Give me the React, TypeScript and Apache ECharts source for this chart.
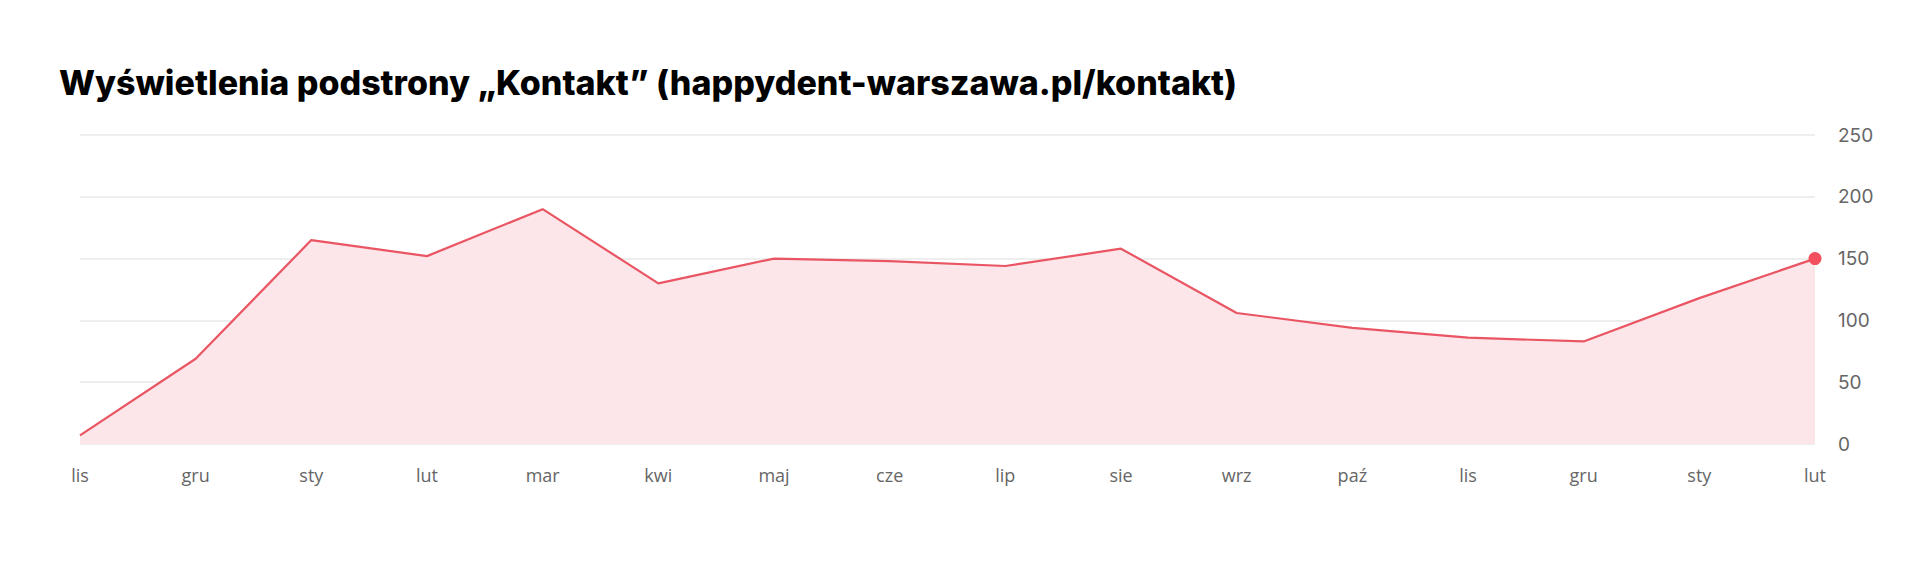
import React, { useEffect, useRef } from "react";
import * as echarts from "echarts";

const titleText = "Wyświetlenia podstrony „Kontakt” (happydent-warszawa.pl/kontakt)";
const months = ["lis", "gru", "sty", "lut", "mar", "kwi", "maj", "cze", "lip", "sie", "wrz", "paź", "lis", "gru", "sty", "lut"];
const views = [7, 69, 165, 152, 190, 130, 150, 148, 144, 158, 106, 94, 86, 83, 118, 150];
const yTicks = { min: 0, max: 250, interval: 50 };

export default function App() {
  const ref = useRef<HTMLDivElement>(null);
  useEffect(() => {
    if (!ref.current) return;
    const chart = echarts.init(ref.current, undefined, { renderer: "svg" });
    const lastIdx = views.length - 1;
    chart.setOption({
      animation: false,
      backgroundColor: "#ffffff",
      title: {
        text: titleText,
        left: 46,
        top: 52,
        textStyle: {
          fontFamily: "Inter",
          fontWeight: 800,
          fontSize: 34,
          color: "#000000",
        },
      },
      grid: { left: 72, right: 97, top: 127, bottom: 114 },
      xAxis: {
        type: "category",
        data: months,
        boundaryGap: false,
        axisLine: { show: false },
        axisTick: { show: false },
        axisLabel: {
          margin: 22,
          fontFamily: "Open Sans",
          fontSize: 18,
          color: "#666666",
        },
        splitLine: { show: false },
      },
      yAxis: {
        type: "value",
        position: "right",
        min: yTicks.min,
        max: yTicks.max,
        interval: yTicks.interval,
        axisLine: { show: false },
        axisTick: { show: false },
        axisLabel: {
          margin: 23,
          fontFamily: "Inter",
          fontSize: 19,
          color: "#666666",
        },
        splitLine: { lineStyle: { color: "#eeeeee", width: 2 } },
      },
      series: [
        {
          type: "line",
          data: views.map((v, i) =>
            i === lastIdx
              ? { value: v, symbol: "circle", symbolSize: 13, itemStyle: { color: "#f2505e" } }
              : { value: v, symbol: "none" }
          ),
          showSymbol: true,
          lineStyle: { color: "#ea5563", width: 2.2 },
          itemStyle: { color: "#f2505e" },
          areaStyle: { color: "#fde6ea", opacity: 1 },
          z: 3,
        },
      ],
    });
    return () => chart.dispose();
  }, []);
  return <div ref={ref} style={{ width: 1904, height: 550 }} />;
}
